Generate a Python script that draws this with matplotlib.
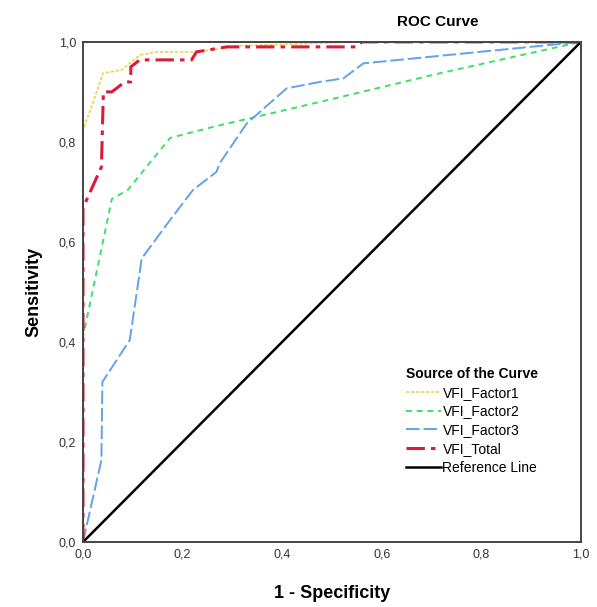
import matplotlib
matplotlib.use("Agg")
import matplotlib.pyplot as plt

plt.rcParams['font.family'] = ['Liberation Sans', 'DejaVu Sans']

# ROC points (1 - specificity, sensitivity)
f1_x = [0.0, 0.0, 0.02, 0.04, 0.078, 0.114, 0.15, 0.228, 0.315, 0.55, 1.0]
f1_y = [0.0, 0.824, 0.878, 0.937, 0.944, 0.974, 0.98, 0.98, 0.992, 1.0, 1.0]

f2_x = [0.0, 0.0, 0.058, 0.09, 0.175, 0.261, 0.476, 0.72, 1.0]
f2_y = [0.0, 0.41, 0.686, 0.704, 0.808, 0.83, 0.88, 0.938, 1.0]

f3_x = [0.0, 0.037, 0.039, 0.094, 0.118, 0.175, 0.221, 0.268, 0.275, 0.329,
        0.409, 0.476, 0.523, 0.563, 1.0]
f3_y = [0.0, 0.164, 0.32, 0.404, 0.567, 0.644, 0.704, 0.74, 0.758, 0.837,
        0.907, 0.92, 0.927, 0.957, 1.0]

tot_x = [0.0, 0.0, 0.037, 0.041, 0.058, 0.084, 0.096, 0.096, 0.114, 0.218,
         0.228, 0.289, 0.55, 0.56, 1.0]
tot_y = [0.0, 0.668, 0.75, 0.90, 0.90, 0.92, 0.92, 0.95, 0.964, 0.964,
         0.98, 0.99, 0.99, 1.0, 1.0]

ref_x = [0.0, 1.0]
ref_y = [0.0, 1.0]

ticks = [0.0, 0.2, 0.4, 0.6, 0.8, 1.0]
tick_labels = ["0,0", "0,2", "0,4", "0,6", "0,8", "1,0"]

fig = plt.figure(figsize=(5.97, 6.07), dpi=100)
ax = fig.add_axes([0.139, 0.107, 0.834, 0.824])

ax.plot(f1_x, f1_y, color="#ecd54a", lw=1.2, dashes=(2, 1), label="VFI_Factor1")
ax.plot(f2_x, f2_y, color="#3ee062", lw=1.4, dashes=(3, 2.5), label="VFI_Factor2")
ax.plot(f3_x, f3_y, color="#62a2ea", lw=1.4, dashes=(7, 2), label="VFI_Factor3")
ax.plot(tot_x, tot_y, color="#dc1a3a", lw=2.2, dashes=(6, 2, 1.5, 2), label="VFI_Total")
ax.plot(ref_x, ref_y, color="black", lw=1.8, label="Reference Line")

ax.set_xlim(0, 1)
ax.set_ylim(0, 1)
ax.set_xticks(ticks)
ax.set_xticklabels(tick_labels)
ax.set_yticks(ticks)
ax.set_yticklabels(tick_labels)
ax.tick_params(length=0, labelsize=9, colors="#333333", pad=5)
for s in ax.spines.values():
    s.set_color("#444444")
    s.set_linewidth(1.4)

ax.set_xlabel("1 - Specificity", fontsize=13, fontweight="bold", labelpad=17)
ax.set_ylabel("Sensitivity", fontsize=13, fontweight="bold", labelpad=12)
fig.text(0.733, 0.963, "ROC Curve", fontsize=11, fontweight="bold", ha="center", va="center")

leg = ax.legend(loc="upper left", bbox_to_anchor=(0.63, 0.37), frameon=False,
                title="Source of the Curve", fontsize=10, handlelength=2.5,
                handletextpad=0.1, labelspacing=0.35, borderpad=0.2)
leg.get_title().set_fontweight("bold")
leg.get_title().set_fontsize(10)
leg._legend_box.align = "left"

fig.savefig("out.png", dpi=100)
